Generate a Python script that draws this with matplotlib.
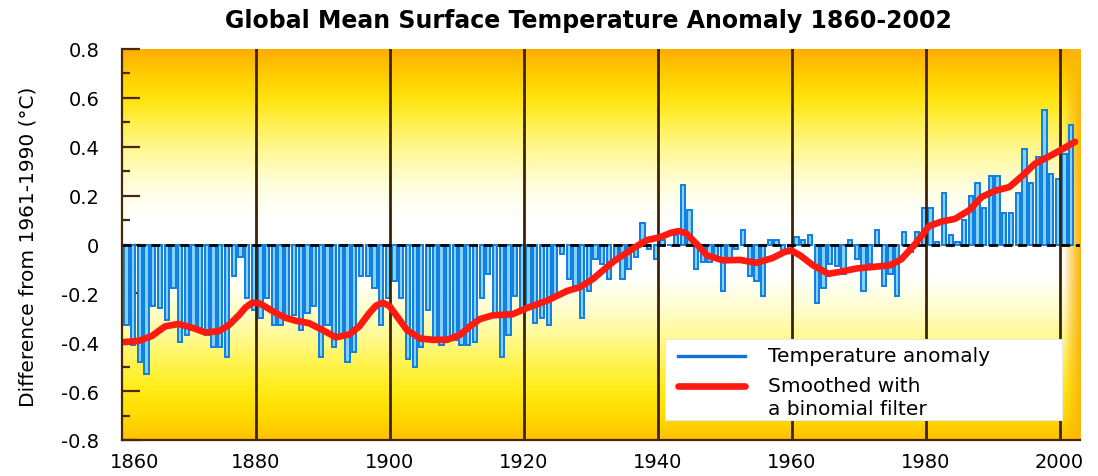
import numpy as np
import matplotlib
matplotlib.use("Agg")
import matplotlib.pyplot as plt
from matplotlib.lines import Line2D
from matplotlib.patches import Rectangle
from matplotlib.transforms import ScaledTranslation

# ---------------- data ----------------
years = list(range(1861, 2003))
anomaly = [
    -0.33, -0.41, -0.48, -0.53, -0.25, -0.26, -0.31, -0.18, -0.40, -0.37,   # 1861-1870
    -0.35, -0.34, -0.37, -0.42, -0.42, -0.46, -0.13, -0.05, -0.22, -0.27,   # 1871-1880
    -0.30, -0.22, -0.33, -0.33, -0.31, -0.29, -0.35, -0.28, -0.25, -0.46,   # 1881-1890
    -0.33, -0.42, -0.37, -0.48, -0.44, -0.13, -0.13, -0.18, -0.33, -0.22,   # 1891-1900
    -0.15, -0.22, -0.47, -0.50, -0.42, -0.27, -0.39, -0.41, -0.39, -0.39,   # 1901-1910
    -0.41, -0.41, -0.40, -0.22, -0.12, -0.28, -0.46, -0.37, -0.21, -0.26,   # 1911-1920
    -0.26, -0.32, -0.30, -0.33, -0.22, -0.04, -0.14, -0.17, -0.30, -0.19,   # 1921-1930
    -0.06, -0.08, -0.14, -0.06, -0.14, -0.10, -0.05, 0.09, -0.02, -0.06,    # 1931-1940
    0.02, 0.00, 0.04, 0.245, 0.14, -0.10, -0.07, -0.07, -0.06, -0.19,       # 1941-1950
    -0.06, -0.02, 0.06, -0.13, -0.15, -0.21, 0.02, 0.02, -0.04, -0.03,      # 1951-1960
    0.03, 0.02, 0.04, -0.24, -0.18, -0.08, -0.09, -0.12, 0.02, -0.06,       # 1961-1970
    -0.19, -0.08, 0.06, -0.17, -0.12, -0.21, 0.05, -0.03, 0.05, 0.15,       # 1971-1980
    0.15, 0.01, 0.21, 0.04, 0.01, 0.10, 0.20, 0.25, 0.15, 0.28,             # 1981-1990
    0.28, 0.13, 0.13, 0.21, 0.39, 0.25, 0.36, 0.55, 0.29, 0.27,             # 1991-2000
    0.37, 0.49,                                                              # 2001-2002
]

smooth_years = [
    1860.0, 1862.5, 1864.5, 1866.5, 1868.5, 1870.5, 1872.5, 1874.5, 1876.0, 1877.5,
    1878.5, 1879.5, 1880.5, 1881.5, 1883.0, 1884.5, 1886.0, 1888.0, 1890.0, 1892.0,
    1894.0, 1895.5, 1897.0, 1898.0, 1899.0, 1900.0, 1901.0, 1902.6, 1904.6, 1906.5,
    1908.6, 1910.5, 1912.0, 1913.5, 1915.4, 1918.4, 1920.5, 1923.5, 1926.5, 1928.4,
    1930.4, 1933.4, 1936.3, 1938.4, 1940.4, 1942.0, 1943.2, 1944.3, 1945.9, 1947.4,
    1949.8, 1952.3, 1954.8, 1957.2, 1959.0, 1960.0, 1961.3, 1963.2, 1965.5, 1967.2,
    1969.7, 1972.1, 1974.7, 1976.4, 1978.4, 1980.5, 1982.4, 1984.4, 1986.5, 1988.4,
    1990.4, 1992.5, 1994.4, 1996.3, 1998.4, 2000.4, 2002.3,
]
smooth_values = [
    -0.400, -0.395, -0.375, -0.335, -0.325, -0.340, -0.360, -0.355, -0.330, -0.290,
    -0.258, -0.238, -0.240, -0.255, -0.280, -0.300, -0.312, -0.322, -0.350, -0.380,
    -0.368, -0.335, -0.280, -0.250, -0.238, -0.252, -0.290, -0.350, -0.385, -0.390,
    -0.390, -0.370, -0.335, -0.305, -0.290, -0.285, -0.260, -0.230, -0.190, -0.175,
    -0.140, -0.070, -0.017, 0.018, 0.030, 0.048, 0.055, 0.045, 0.000, -0.045,
    -0.065, -0.063, -0.075, -0.055, -0.030, -0.025, -0.045, -0.085, -0.120, -0.112,
    -0.098, -0.092, -0.085, -0.060, 0.000, 0.075, 0.094, 0.105, 0.140, 0.195,
    0.220, 0.235, 0.280, 0.330, 0.360, 0.390, 0.420,
]

decade_lines = [1880, 1900, 1920, 1940, 1960, 1980, 2000]
xtick_labels = ["1860", "1880", "1900", "1920", "1940", "1960", "1980", "2000"]
ytick_values = [-0.8, -0.6, -0.4, -0.2, 0.0, 0.2, 0.4, 0.6, 0.8]
ytick_labels = ["-0.8", "-0.6", "-0.4", "-0.2", "0", "0.2", "0.4", "0.6", "0.8"]

title = "Global Mean Surface Temperature Anomaly 1860-2002"
ylabel = "Difference from 1961-1990 (\u00b0C)"
legend_labels = ["Temperature anomaly", "Smoothed with", "a binomial filter"]

# ---------------- figure ----------------
plt.rcParams["font.family"] = ["DejaVu Sans"]
fig = plt.figure(figsize=(10.98, 4.77), dpi=100)
fig.patch.set_facecolor("white")
ax = fig.add_axes([121.5 / 1098, 36 / 477, 958.5 / 1098, 391 / 477])

XMIN, XMAX = 1860.0, 2003.05
YMIN, YMAX = -0.8, 0.8
ax.set_xlim(XMIN, XMAX)
ax.set_ylim(YMIN, YMAX)

# background gradient (vertical orange-yellow-white-yellow, darker at right edge)
ny, nx = 400, 600
vy = np.linspace(YMIN, YMAX, ny)
stops_v = [-0.8, -0.7, -0.6, -0.5, -0.4, -0.3, -0.2, -0.12, 0.1, 0.2, 0.3, 0.4, 0.5, 0.6, 0.7, 0.8]
stops_g = [0.76, 0.86, 0.92, 0.95, 0.975, 0.99, 1.0, 1.0, 1.0, 1.0, 0.99, 0.97, 0.94, 0.89, 0.80, 0.68]
stops_b = [0.0, 0.0, 0.08, 0.28, 0.52, 0.74, 0.90, 1.0, 1.0, 0.92, 0.76, 0.55, 0.30, 0.05, 0.0, 0.0]
g = np.interp(vy, stops_v, stops_g)
b = np.interp(vy, stops_v, stops_b)
img = np.ones((ny, nx, 3))
img[:, :, 1] = g[:, None]
img[:, :, 2] = b[:, None]
vx = np.linspace(XMIN, XMAX, nx)
edge = np.clip((vx - 2000.6) / (XMAX - 2000.6), 0, 1) ** 0.8
orange = np.array([0.98, 0.72, 0.05])
img = img * (1 - edge[None, :, None]) + orange[None, None, :] * edge[None, :, None]
ax.imshow(img, extent=[XMIN, XMAX, YMIN, YMAX], origin="lower", aspect="auto",
          zorder=0, interpolation="bilinear")

# bars
xs = np.array(years) - 0.25
ax.bar(xs, anomaly, width=0.64, color="#84D2F7", edgecolor="#0F7DE3",
       linewidth=1.4, zorder=2)

# decade vertical lines
for d in decade_lines:
    ax.axvline(d, color="#3E2208", lw=2.0, zorder=3)

# zero dashed line
zl = ax.axhline(0, color="black", lw=2.0, zorder=4)
zl.set_dashes((3.2, 2.0))

# smoothed curve
ax.plot(smooth_years, smooth_values, color="#FF1A10", lw=4.8, zorder=5,
        solid_capstyle="round", solid_joinstyle="round")

# axes styling
for side in ["top", "right"]:
    ax.spines[side].set_visible(False)
for side in ["left", "bottom"]:
    ax.spines[side].set_color("#4A2806")
    ax.spines[side].set_linewidth(1.6)
    ax.spines[side].set_zorder(6)

ax.set_yticks(ytick_values)
ax.set_yticklabels(ytick_labels, fontsize=14)
ax.set_yticks(np.arange(-0.7, 0.8, 0.2), minor=True)
ax.tick_params(axis="y", which="major", direction="in", length=13, width=1.6,
               color="#4A2806", pad=16)
ax.tick_params(axis="y", which="minor", direction="in", length=6, width=1.6,
               color="#4A2806")
ax.set_xticks([1860] + decade_lines)
ax.set_xticklabels(xtick_labels, fontsize=14)
ax.tick_params(axis="x", which="major", length=0, pad=9)
lab0 = ax.get_xticklabels()[0]
lab0.set_transform(lab0.get_transform() + ScaledTranslation(0.13, 0, fig.dpi_scale_trans))

# title and y label
fig.text(588 / 1098, 1 - 21 / 477, title, ha="center", va="center",
         fontsize=17, fontweight="bold")
fig.text(28 / 1098, 1 - 247 / 477, ylabel, ha="center", va="center",
         rotation=90, fontsize=14.5)

# legend (drawn in axes fraction coordinates)
def fx(px):
    return (px - 121.5) / 958.5

def fy(py):
    return (441 - py) / 391

ax.add_patch(Rectangle((fx(665), fy(421)), fx(1062) - fx(665), fy(340) - fy(421),
                       transform=ax.transAxes, facecolor="white",
                       edgecolor="#E8E8E8", lw=0.8, zorder=7))
ax.add_line(Line2D([fx(678), fx(745)], [fy(357), fy(357)], transform=ax.transAxes,
                   color="#1070E0", lw=2.4, zorder=8))
ax.add_line(Line2D([fx(678), fx(745)], [fy(387), fy(387)], transform=ax.transAxes,
                   color="#FF1A10", lw=4.8, zorder=8, solid_capstyle="round"))
for lbl, py in zip(legend_labels, [357, 387, 410]):
    ax.text(fx(768), fy(py), lbl, transform=ax.transAxes, ha="left", va="center",
            fontsize=14.5, zorder=9)

fig.savefig("out.png", dpi=100, facecolor="white")
